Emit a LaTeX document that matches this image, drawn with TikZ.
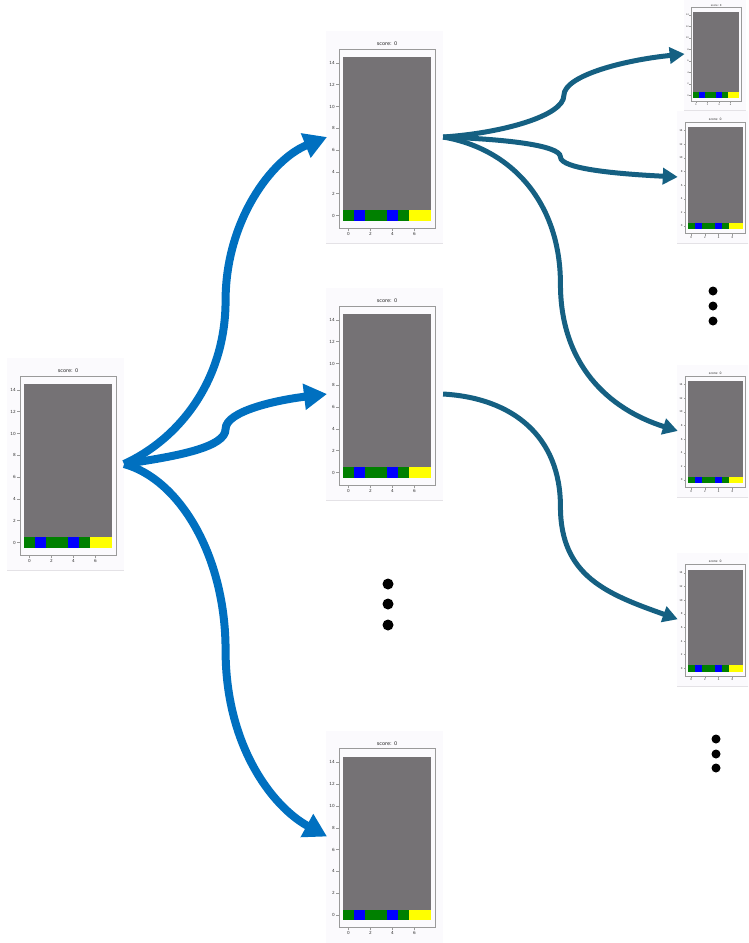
\documentclass[tikz,border=0pt]{standalone}
\usepackage{fontspec}
\usepackage{tikz}
\usetikzlibrary{arrows.meta,calc}
\newfontfamily\plotfont{DejaVu Sans}
\definecolor{bluearrow}{HTML}{0070C0}
\definecolor{tealarrow}{HTML}{156082}
\definecolor{figbg}{HTML}{FBFAFD}
\definecolor{figedge}{HTML}{E4E2E6}
\definecolor{boardgray}{HTML}{757275}
\definecolor{cellgreen}{HTML}{008000}
\definecolor{cellblue}{HTML}{0000FF}
\definecolor{cellyellow}{HTML}{FFFF00}
\definecolor{framegray}{HTML}{9A9A9A}

\tikzset{
  ticklbl/.style={font=\plotfont\fontsize{4.2}{5}\selectfont, text=black!80, inner sep=1.2pt},
  scorelbl/.style={font=\plotfont\fontsize{5}{6}\selectfont, text=black!85, inner sep=0pt},
  board/.pic={
    \begin{scope}[x=11pt, y=10.9pt]
      \fill[figbg] (-2.05,-2.6) rectangle (8.6,16.9);
      \draw[figedge, line width=0.8pt] (-2.05,-2.6) -- (8.6,-2.6);
      \fill[boardgray] (-0.5,0.5) rectangle (7.5,14.5);
      \foreach \c/\k in {0/cellgreen,1/cellblue,2/cellgreen,3/cellgreen,
                         4/cellblue,5/cellgreen,6/cellyellow,7/cellyellow}
        \fill[\k] (\c-0.5,-0.5) rectangle (\c+0.5,0.5);
      \draw[framegray, line width=0.8pt] (-0.86,-1.15) rectangle (7.86,15.27);
      \foreach \v in {0,2,...,14}
        \draw[framegray, line width=0.5pt] (-0.86,\v) -- ++(-0.25,0) node[ticklbl, left] {\v};
      \foreach \v in {0,2,4,6}
        \draw[framegray, line width=0.5pt] (\v,-1.15) -- ++(0,-0.25) node[ticklbl, below] {\v};
      \node[scorelbl] (-title) at (3.5,15.72) {score: 0};
      \coordinate (-in) at (-1.95,7.2);
      \coordinate (-out) at (8.6,7.2);
    \end{scope}
  }
}

\begin{document}
\begin{tikzpicture}[x=1pt, y=-1pt,
    bluegrow/.style={bluearrow, line width=8pt, -{Triangle[length=23pt, width=25pt]}},
    tealgrow/.style={tealarrow, line width=5pt, -{Triangle[length=15pt, width=16pt]}}]
  \useasboundingbox (0,0) rectangle (748,943);
  \clip (0,0) rectangle (748,943);

  \pic (lb) at (29.5,542.5) {board};
  \pic (mt) at (348.5,215.5) {board};
  \pic (mm) at (348.5,472.5) {board};
  \pic (mb) at (348.5,915) {board};
  \pic[scale=0.525, transform shape] (ra) at (695.9,95.2) {board};
  \pic[scale=0.625, transform shape] (rb) at (691.2,226) {board};
  \pic[scale=0.625, transform shape] (rc) at (691.2,480) {board};
  \pic[scale=0.625, transform shape] (rd) at (691.2,668.3) {board};

  \draw[bluegrow] (lb-out) .. controls +(55,-25) and +(0,80) .. ($(lb-out)!.5!(mt-in)$)
    .. controls +(0,-80) and +(-55,22) .. (mt-in);
  \draw[bluegrow] (lb-out) .. controls +(55,-8) and +(0,18) .. ($(lb-out)!.5!(mm-in)$)
    .. controls +(0,-18) and +(-50,6) .. (mm-in);
  \draw[bluegrow] (lb-out) .. controls +(55,15) and +(0,-95) .. ($(lb-out)!.5!(mb-in)$)
    .. controls +(0,95) and +(-55,-30) .. (mb-in);

  \draw[tealgrow] (mt-out) .. controls +(60,-4) and +(0,20) .. ($(mt-out)!.5!(ra-in)$)
    .. controls +(0,-20) and +(-60,6) .. (ra-in);
  \draw[tealgrow] (mt-out) .. controls +(60,2) and +(0,-12) .. ($(mt-out)!.5!(rb-in)$)
    .. controls +(0,12) and +(-60,-3) .. (rb-in);
  \draw[tealgrow] (mt-out) .. controls +(70,12) and +(0,-80) .. ($(mt-out)!.5!(rc-in)$)
    .. controls +(0,80) and +(-70,-22) .. (rc-in);
  \draw[tealgrow] (mm-out) .. controls +(70,4) and +(0,-70) .. ($(mm-out)!.5!(rd-in)$)
    .. controls +(0,70) and +(-70,-25) .. (rd-in);

  \foreach \y in {584,604,625}
    \fill (388,\y) circle[radius=5.5];
  \foreach \y in {291,306,321}
    \fill (713,\y) circle[radius=4.5];
  \foreach \y in {739,754,768}
    \fill (716,\y) circle[radius=4.5];
\end{tikzpicture}
\end{document}
